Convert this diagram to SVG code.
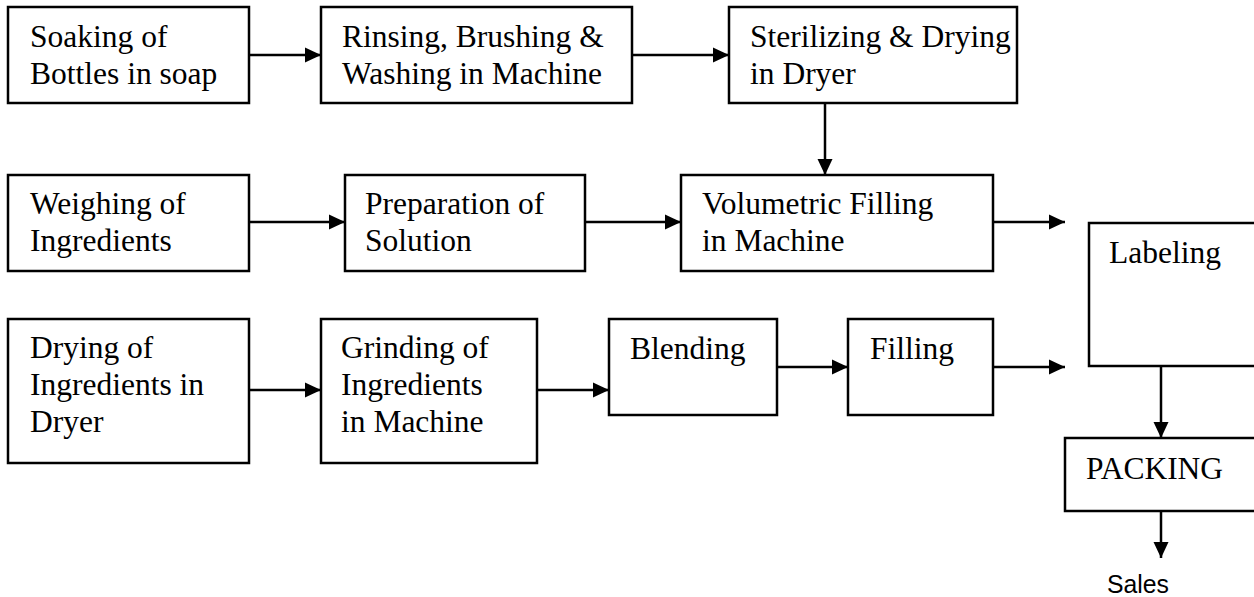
<svg xmlns="http://www.w3.org/2000/svg" width="1254" height="597" viewBox="0 0 1254 597">
<style>
.box{fill:#fff;stroke:#000;stroke-width:2.5}
.t{font-family:"Liberation Serif","Times New Roman",serif;font-size:31.5px;fill:#000}
.s{font-family:"Liberation Sans",Arial,sans-serif;font-size:26px;fill:#000}
.c{stroke:#000;stroke-width:2.5;fill:none;marker-end:url(#ah)}
</style>
<defs>
<marker id="ah" markerUnits="userSpaceOnUse" markerWidth="18" markerHeight="18" viewBox="0 0 18 18" refX="16" refY="9" orient="auto">
<path d="M0,1.5 L16,9 L0,16.5 Z" fill="#000"/>
</marker>
</defs>
<rect width="1254" height="597" fill="#fff"/>
<g id="connectors">
<line class="c" x1="249" y1="55" x2="321" y2="55"/>
<line class="c" x1="632" y1="55" x2="729" y2="55"/>
<line class="c" x1="825" y1="103" x2="825" y2="175"/>
<line class="c" x1="249" y1="222" x2="345" y2="222"/>
<line class="c" x1="585" y1="222" x2="681" y2="222"/>
<line class="c" x1="993" y1="222" x2="1065" y2="222"/>
<line class="c" x1="249" y1="390" x2="321" y2="390"/>
<line class="c" x1="537" y1="390" x2="609" y2="390"/>
<line class="c" x1="777" y1="367" x2="848" y2="367"/>
<line class="c" x1="993" y1="367" x2="1065" y2="367"/>
<line class="c" x1="1161" y1="366" x2="1161" y2="438"/>
<line class="c" x1="1161" y1="511" x2="1161" y2="558"/>
</g>
<g id="soaking"><rect class="box" x="8" y="7" width="241" height="96"/><text class="t" x="30" y="47">Soaking of</text><text class="t" x="30" y="84">Bottles in soap</text></g>
<g id="rinsing"><rect class="box" x="321" y="7" width="311" height="96"/><text class="t" x="342" y="47">Rinsing, Brushing &amp;</text><text class="t" x="342" y="84">Washing in Machine</text></g>
<g id="sterilizing"><rect class="box" x="729" y="7" width="288" height="96"/><text class="t" x="750" y="47">Sterilizing &amp; Drying</text><text class="t" x="750" y="84">in Dryer</text></g>
<g id="weighing"><rect class="box" x="8" y="175" width="241" height="96"/><text class="t" x="30" y="214">Weighing of</text><text class="t" x="30" y="251">Ingredients</text></g>
<g id="preparation"><rect class="box" x="345" y="175" width="240" height="96"/><text class="t" x="365" y="214">Preparation of</text><text class="t" x="365" y="251">Solution</text></g>
<g id="volumetric"><rect class="box" x="681" y="175" width="312" height="96"/><text class="t" x="702" y="214">Volumetric Filling</text><text class="t" x="702" y="251">in Machine</text></g>
<g id="labeling"><rect class="box" x="1089" y="223" width="180" height="143"/><text class="t" x="1109" y="263">Labeling</text></g>
<g id="drying"><rect class="box" x="8" y="319" width="241" height="144"/><text class="t" x="30" y="358">Drying of</text><text class="t" x="30" y="395">Ingredients in</text><text class="t" x="30" y="432">Dryer</text></g>
<g id="grinding"><rect class="box" x="321" y="319" width="216" height="144"/><text class="t" x="341" y="358">Grinding of</text><text class="t" x="341" y="395">Ingredients</text><text class="t" x="341" y="432">in Machine</text></g>
<g id="blending"><rect class="box" x="609" y="319" width="168" height="96"/><text class="t" x="630" y="359">Blending</text></g>
<g id="filling"><rect class="box" x="848" y="319" width="145" height="96"/><text class="t" x="870" y="359">Filling</text></g>
<g id="packing"><rect class="box" x="1065" y="438" width="200" height="73"/><text class="t" x="1086" y="479">PACKING</text></g>
<g id="sales"><text class="s" x="1107" y="593" textLength="62" lengthAdjust="spacingAndGlyphs">Sales</text></g>
</svg>
